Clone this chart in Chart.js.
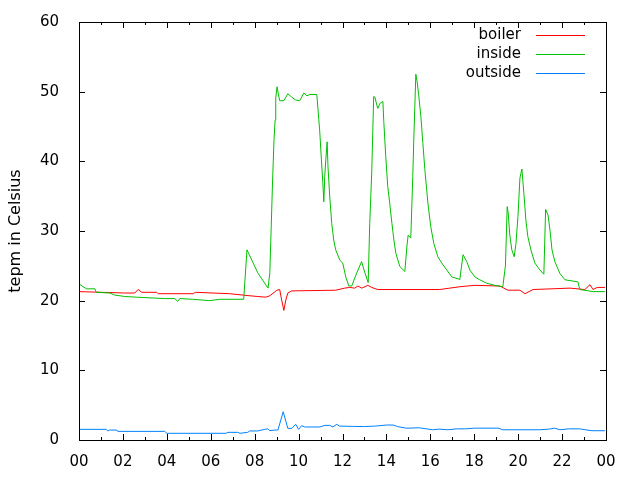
<!DOCTYPE html>
<html>
<head>
<meta charset="utf-8">
<script src="https://cdn.jsdelivr.net/npm/chart.js"></script>
<style>
  body { margin: 0; background: #fff; }
  canvas { display: block; }
</style>
</head>
<body>
<canvas id="myChart" width="640" height="480"></canvas>
<script>
// time of day in hours
const insideHours = [
  0, 0.34, 0.72, 0.79, 1.40, 1.63, 2.08, 2.62, 3.90, 4.36,
  4.50, 4.59, 5.18, 5.95, 6.41, 7.50, 7.65, 8.14, 8.61, 8.69,
  8.77, 8.81, 8.88, 8.93, 8.96, 9.02, 9.07, 9.14, 9.33, 9.51,
  9.69, 9.87, 10.05, 10.24, 10.38, 10.51, 10.83, 10.92, 10.96, 11.04,
  11.10, 11.15, 11.19, 11.24, 11.30, 11.34, 11.42, 11.51, 11.60, 11.69,
  11.88, 12.01, 12.15, 12.29, 12.42, 12.65, 12.87, 13.02, 13.17, 13.24,
  13.33, 13.42, 13.48, 13.56, 13.61, 13.70, 13.84, 13.88, 13.97, 14.06,
  14.15, 14.25, 14.34, 14.43, 14.61, 14.84, 14.93, 14.99, 15.11, 15.20,
  15.25, 15.34, 15.40, 15.47, 15.57, 15.66, 15.75, 15.89, 16.02, 16.16,
  16.34, 16.52, 16.75, 16.98, 17.30, 17.34, 17.49, 17.66, 17.80, 18.03,
  18.25, 18.57, 18.94, 19.30, 19.42, 19.50, 19.54, 19.62, 19.71, 19.82,
  19.90, 19.99, 20.08, 20.17, 20.26, 20.35, 20.44, 20.58, 20.76, 20.99,
  21.17, 21.25, 21.36, 21.45, 21.54, 21.67, 21.90, 22.13, 22.72, 22.81,
  23.41, 23.95
];
const insideTemp = [
  22.4, 21.7, 21.7, 21.2, 21.1, 20.8, 20.6, 20.5, 20.3, 20.3,
  19.9, 20.3, 20.2, 20.0, 20.2, 20.2, 27.3, 24.0, 21.8, 24.0,
  32.3, 36.6, 43.0, 45.9, 49.1, 50.7, 49.8, 48.7, 48.7, 49.7,
  49.2, 48.8, 48.7, 49.8, 49.4, 49.6, 49.6, 46.0, 44.5, 40.2,
  37.1, 34.2, 37.8, 40.2, 42.8, 39.2, 34.9, 31.1, 28.7, 27.3,
  25.8, 25.4, 23.4, 22.1, 22.1, 24.0, 25.6, 24.0, 22.6, 31.1,
  38.3, 49.3, 49.2, 48.1, 47.6, 48.3, 48.6, 45.7, 40.7, 36.4,
  34.0, 31.1, 28.7, 26.8, 24.9, 24.2, 27.7, 29.4, 29.0, 37.8,
  43.5, 52.5, 51.4, 49.5, 46.4, 42.6, 38.8, 34.0, 30.6, 28.2,
  26.3, 25.4, 24.4, 23.4, 23.1, 23.0, 26.6, 25.6, 24.4, 23.4,
  23.0, 22.5, 22.2, 22.0, 25.0, 33.5, 32.8, 29.4, 27.3, 26.3,
  28.2, 32.1, 37.6, 38.9, 35.4, 31.6, 29.2, 27.3, 25.4, 24.4,
  23.8, 33.1, 32.3, 30.1, 27.3, 25.6, 23.9, 23.0, 22.7, 21.6,
  21.3, 21.3
];

const boilerHours = [
  0, 2.08, 2.54, 2.69, 2.86, 3.54, 3.60, 5.20, 5.30, 6.86,
  7.78, 8.14, 8.51, 8.69, 9.01, 9.14, 9.23, 9.33, 9.42, 9.51,
  9.69, 11.69, 12.10, 12.32, 12.56, 12.70, 12.88, 13.15, 13.33, 13.60,
  16.43, 17.34, 18.03, 19.17, 19.53, 20.08, 20.31, 20.68, 22.36, 23.04,
  23.27, 23.41, 23.60, 23.95
];
const boilerTemp = [
  21.3, 21.1, 21.1, 21.6, 21.2, 21.2, 21.0, 21.0, 21.2, 21.0,
  20.7, 20.6, 20.5, 20.7, 21.5, 21.6, 20.1, 18.6, 20.1, 21.1,
  21.4, 21.5, 21.8, 21.9, 21.8, 22.1, 21.8, 22.2, 21.9, 21.6,
  21.6, 22.0, 22.2, 22.1, 21.5, 21.5, 21.0, 21.6, 21.8, 21.6,
  22.3, 21.6, 21.9, 21.9
];

const outsideHours = [
  0, 1.25, 1.31, 1.40, 1.72, 1.76, 3.90, 4.00, 6.69, 6.78,
  7.23, 7.33, 7.68, 7.77, 8.14, 8.46, 8.60, 8.69, 8.92, 9.06,
  9.30, 9.51, 9.69, 9.87, 10.00, 10.14, 10.28, 10.97, 11.20, 11.42,
  11.56, 11.74, 11.86, 12.50, 13.00, 13.50, 14.00, 14.30, 14.50, 14.90,
  15.50, 16.10, 16.40, 16.80, 17.20, 17.60, 18.00, 19.10, 19.30, 21.00,
  21.40, 21.66, 21.90, 22.30, 22.80, 23.00, 23.36, 23.95
];
const outsideTemp = [
  1.53, 1.53, 1.30, 1.43, 1.43, 1.24, 1.24, 0.96, 0.96, 1.10,
  1.10, 0.96, 1.10, 1.30, 1.30, 1.53, 1.60, 1.34, 1.43, 1.43,
  4.06, 1.67, 1.67, 2.25, 1.53, 2.06, 1.87, 1.87, 2.10, 2.10,
  1.87, 2.25, 2.00, 1.95, 1.93, 2.00, 2.15, 2.15, 1.93, 1.70,
  1.75, 1.47, 1.56, 1.47, 1.60, 1.60, 1.70, 1.70, 1.47, 1.47,
  1.56, 1.70, 1.47, 1.60, 1.60, 1.50, 1.33, 1.33
];

const seriesNames = ['boiler', 'inside', 'outside'];
const yTitle = 'tepm in Celsius';

function toPoints(xs, ys) {
  return xs.map((h, i) => ({x: h, y: ys[i]}));
}

const FONT = {family: 'DejaVu Sans', size: 15};

// gnuplot look: closed frame, inward ticks on all sides, legend text left of sample
const gnuplotFrame = {
  id: 'gnuplotFrame',
  afterDraw(chart) {
    const ctx = chart.ctx;
    const a = chart.chartArea;
    const x = chart.scales.x, y = chart.scales.y;
    ctx.save();
    ctx.strokeStyle = '#000';
    ctx.lineWidth = 1;
    ctx.strokeRect(a.left + 0.5, a.top + 0.5, a.right - a.left, a.bottom - a.top);

    ctx.beginPath();
    for (let h = 1; h < 24; h++) {
      const px = Math.round(x.getPixelForValue(h)) + 0.5;
      const len = h % 2 == 0 ? 6 : 3;
      ctx.moveTo(px, a.bottom); ctx.lineTo(px, a.bottom - len);
      ctx.moveTo(px, a.top); ctx.lineTo(px, a.top + len);
    }
    for (let v = 10; v < 60; v += 10) {
      const py = Math.round(y.getPixelForValue(v)) + 0.5;
      ctx.moveTo(a.left, py); ctx.lineTo(a.left + 6, py);
      ctx.moveTo(a.right, py); ctx.lineTo(a.right - 6, py);
    }
    ctx.stroke();

    // key
    ctx.font = FONT.size + 'px ' + FONT.family;
    ctx.textAlign = 'right';
    ctx.textBaseline = 'middle';
    chart.data.datasets.forEach((ds, i) => {
      const row = 35 + i * 19;
      ctx.fillStyle = '#000';
      ctx.fillText(ds.label, 521, row);
      ctx.strokeStyle = ds.borderColor;
      ctx.beginPath();
      ctx.moveTo(536, row + 0.5);
      ctx.lineTo(585, row + 0.5);
      ctx.stroke();
    });
    ctx.restore();
  }
};

const ctx = document.getElementById('myChart');
const myChart = new Chart(ctx, {
  type: 'line',
  data: {
    datasets: [
      {label: seriesNames[0], data: toPoints(boilerHours, boilerTemp), borderColor: '#ff0000', order: 3},
      {label: seriesNames[1], data: toPoints(insideHours, insideTemp), borderColor: '#00c000', order: 2},
      {label: seriesNames[2], data: toPoints(outsideHours, outsideTemp), borderColor: '#0080ff', order: 1}
    ]
  },
  options: {
    responsive: false,
    animation: false,
    layout: {padding: {top: 22, right: 34, left: 0, bottom: 0}},
    elements: {
      line: {borderWidth: 1, tension: 0, fill: false},
      point: {radius: 0}
    },
    plugins: {legend: {display: false}, tooltip: {enabled: false}},
    scales: {
      x: {
        type: 'linear',
        min: 0, max: 24,
        grid: {display: false},
        border: {display: false},
        ticks: {
          stepSize: 2,
          color: '#000',
          font: FONT,
          padding: 5,
          maxRotation: 0,
          callback: v => String(v % 24).padStart(2, '0')
        },
        afterFit: s => { s.height = 40; }
      },
      y: {
        min: 0, max: 60,
        grid: {display: false},
        border: {display: false},
        ticks: {stepSize: 10, color: '#000', font: FONT, padding: 12},
        title: {display: true, text: yTitle, color: '#000', font: {family: 'DejaVu Sans', size: 16}, padding: {top: 6, bottom: 0}},
        afterFit: s => { s.width = 79; }
      }
    }
  },
  plugins: [gnuplotFrame]
});
</script>
</body>
</html>
